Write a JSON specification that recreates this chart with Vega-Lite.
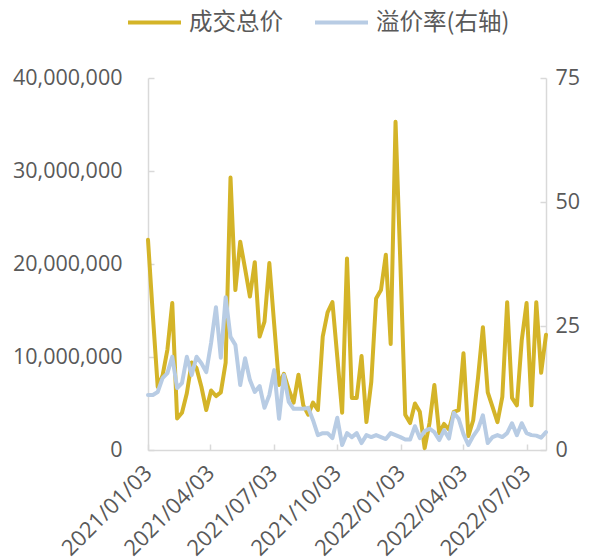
{
  "$schema": "https://vega.github.io/schema/vega-lite/v6.json",
  "width": 398,
  "height": 372,
  "autosize": {"type": "none"},
  "padding": {"left": 148, "top": 78, "right": 52, "bottom": 110},
  "config": {
    "view": {"stroke": null},
    "font": "Open Sans",
    "axis": {
      "grid": false,
      "domainColor": "#d9d9d9",
      "domainWidth": 1.5,
      "tickColor": "#d9d9d9",
      "tickWidth": 1.5,
      "tickSize": -6,
      "labelColor": "#595959",
      "labelFontSize": 21.5,
      "labelFont": "Open Sans",
      "title": null
    }
  },
  "data": {
    "values": [
      {"date": "2021-01-03", "total": 22600000, "premium": 11.1},
      {"date": "2021-01-10", "total": 14500000, "premium": 11.1},
      {"date": "2021-01-17", "total": 6800000, "premium": 11.7},
      {"date": "2021-01-24", "total": 8000000, "premium": 14.5},
      {"date": "2021-01-31", "total": 10800000, "premium": 15.5},
      {"date": "2021-02-07", "total": 15800000, "premium": 18.8},
      {"date": "2021-02-14", "total": 3400000, "premium": 12.5},
      {"date": "2021-02-21", "total": 4000000, "premium": 13.5},
      {"date": "2021-02-28", "total": 6100000, "premium": 18.8},
      {"date": "2021-03-07", "total": 9400000, "premium": 15.1},
      {"date": "2021-03-14", "total": 8800000, "premium": 18.8},
      {"date": "2021-03-21", "total": 6800000, "premium": 17.5},
      {"date": "2021-03-28", "total": 4300000, "premium": 15.7},
      {"date": "2021-04-04", "total": 6400000, "premium": 21.6},
      {"date": "2021-04-11", "total": 5800000, "premium": 28.8},
      {"date": "2021-04-18", "total": 6200000, "premium": 18.6},
      {"date": "2021-04-25", "total": 9400000, "premium": 30.8},
      {"date": "2021-05-02", "total": 29300000, "premium": 22.8},
      {"date": "2021-05-09", "total": 17200000, "premium": 21.2},
      {"date": "2021-05-16", "total": 22400000, "premium": 13.1},
      {"date": "2021-05-23", "total": 19500000, "premium": 18.5},
      {"date": "2021-05-30", "total": 16500000, "premium": 14.1},
      {"date": "2021-06-06", "total": 20200000, "premium": 11.7},
      {"date": "2021-06-13", "total": 12200000, "premium": 12.9},
      {"date": "2021-06-20", "total": 13800000, "premium": 8.5},
      {"date": "2021-06-27", "total": 20100000, "premium": 11.1},
      {"date": "2021-07-04", "total": 13500000, "premium": 16.1},
      {"date": "2021-07-11", "total": 7000000, "premium": 6.3},
      {"date": "2021-07-18", "total": 8200000, "premium": 15.1},
      {"date": "2021-07-25", "total": 6500000, "premium": 9.7},
      {"date": "2021-08-01", "total": 5100000, "premium": 8.3},
      {"date": "2021-08-08", "total": 8100000, "premium": 8.3},
      {"date": "2021-08-15", "total": 4800000, "premium": 8.3},
      {"date": "2021-08-22", "total": 3800000, "premium": 8.5},
      {"date": "2021-08-29", "total": 5100000, "premium": 6.0},
      {"date": "2021-09-05", "total": 4300000, "premium": 3.0},
      {"date": "2021-09-12", "total": 12200000, "premium": 3.4},
      {"date": "2021-09-19", "total": 14800000, "premium": 3.4},
      {"date": "2021-09-26", "total": 15900000, "premium": 2.4},
      {"date": "2021-10-03", "total": 10000000, "premium": 6.5},
      {"date": "2021-10-10", "total": 4000000, "premium": 1.0},
      {"date": "2021-10-17", "total": 20600000, "premium": 3.4},
      {"date": "2021-10-24", "total": 5600000, "premium": 2.6},
      {"date": "2021-10-31", "total": 5600000, "premium": 3.4},
      {"date": "2021-11-07", "total": 10100000, "premium": 1.4},
      {"date": "2021-11-14", "total": 3000000, "premium": 3.0},
      {"date": "2021-11-21", "total": 7300000, "premium": 2.6},
      {"date": "2021-11-28", "total": 16300000, "premium": 3.0},
      {"date": "2021-12-05", "total": 17200000, "premium": 2.6},
      {"date": "2021-12-12", "total": 21000000, "premium": 2.2},
      {"date": "2021-12-19", "total": 11400000, "premium": 3.4},
      {"date": "2021-12-26", "total": 35300000, "premium": 3.0},
      {"date": "2022-01-02", "total": 20000000, "premium": 2.6},
      {"date": "2022-01-09", "total": 3800000, "premium": 2.1},
      {"date": "2022-01-16", "total": 2900000, "premium": 2.1},
      {"date": "2022-01-23", "total": 5000000, "premium": 4.8},
      {"date": "2022-01-30", "total": 4100000, "premium": 2.4},
      {"date": "2022-02-06", "total": 200000, "premium": 3.8},
      {"date": "2022-02-13", "total": 2900000, "premium": 4.3},
      {"date": "2022-02-20", "total": 7000000, "premium": 3.6},
      {"date": "2022-02-27", "total": 1800000, "premium": 2.0},
      {"date": "2022-03-06", "total": 2800000, "premium": 4.0},
      {"date": "2022-03-13", "total": 2200000, "premium": 2.3},
      {"date": "2022-03-20", "total": 4100000, "premium": 7.5},
      {"date": "2022-03-27", "total": 4300000, "premium": 6.3},
      {"date": "2022-04-03", "total": 10400000, "premium": 3.2},
      {"date": "2022-04-10", "total": 1500000, "premium": 1.0},
      {"date": "2022-04-17", "total": 3200000, "premium": 2.8},
      {"date": "2022-04-24", "total": 7800000, "premium": 4.2},
      {"date": "2022-05-01", "total": 13200000, "premium": 7.0},
      {"date": "2022-05-08", "total": 6200000, "premium": 1.4},
      {"date": "2022-05-15", "total": 4600000, "premium": 2.6},
      {"date": "2022-05-22", "total": 3000000, "premium": 3.0},
      {"date": "2022-05-29", "total": 5700000, "premium": 2.6},
      {"date": "2022-06-05", "total": 15900000, "premium": 3.4},
      {"date": "2022-06-12", "total": 5600000, "premium": 5.4},
      {"date": "2022-06-19", "total": 4800000, "premium": 3.0},
      {"date": "2022-06-26", "total": 11800000, "premium": 5.4},
      {"date": "2022-07-03", "total": 15800000, "premium": 3.4},
      {"date": "2022-07-10", "total": 4800000, "premium": 3.0},
      {"date": "2022-07-17", "total": 15900000, "premium": 2.9},
      {"date": "2022-07-24", "total": 8300000, "premium": 2.5},
      {"date": "2022-07-31", "total": 12400000, "premium": 3.6}
    ]
  },
  "layer": [
    {
      "mark": {"type": "line", "strokeWidth": 4, "strokeJoin": "round", "strokeCap": "round"},
      "encoding": {
        "x": {
          "field": "date",
          "type": "temporal",
          "scale": {
            "type": "utc",
            "domain": [
              {"year": 2021, "month": 1, "date": 3, "utc": true},
              {"year": 2022, "month": 7, "date": 31, "utc": true}
            ],
            "nice": false
          },
          "axis": {
            "values": [
              {"year": 2021, "month": 1, "date": 3, "utc": true},
              {"year": 2021, "month": 4, "date": 3, "utc": true},
              {"year": 2021, "month": 7, "date": 3, "utc": true},
              {"year": 2021, "month": 10, "date": 3, "utc": true},
              {"year": 2022, "month": 1, "date": 3, "utc": true},
              {"year": 2022, "month": 4, "date": 3, "utc": true},
              {"year": 2022, "month": 7, "date": 3, "utc": true}
            ],
            "labelExpr": "utcFormat(datum.value, '%Y/%m/%d')",
            "labelFontSize": 22,
            "labelAngle": -45,
            "labelAlign": "right",
            "labelBaseline": "middle",
            "labelPadding": 25,
            "labelOverlap": false,
            "labelBound": false,
            "labelFlush": false
          }
        },
        "y": {
          "field": "total",
          "type": "quantitative",
          "scale": {"domain": [0, 40000000], "nice": false},
          "axis": {
            "values": [0, 10000000, 20000000, 30000000, 40000000],
            "format": ",d",
            "labelPadding": 32,
            "labelFlush": false
          }
        },
        "color": {
          "datum": "成交总价",
          "type": "nominal",
          "scale": {"domain": ["成交总价", "溢价率(右轴)"], "range": ["#D4B428", "#B8CCE4"]},
          "legend": {
            "orient": "none",
            "legendX": -22,
            "legendY": -84,
            "direction": "horizontal",
            "title": null,
            "symbolType": "stroke",
            "symbolSize": 2809,
            "symbolStrokeWidth": 4,
            "labelFontSize": 23.5,
            "labelFont": "Noto Sans CJK SC",
            "labelColor": "#595959",
            "labelOffset": 6,
            "columnPadding": 24,
            "labelLimit": 300
          }
        }
      }
    },
    {
      "mark": {"type": "line", "strokeWidth": 4, "strokeJoin": "round", "strokeCap": "round"},
      "encoding": {
        "x": {"field": "date", "type": "temporal"},
        "y": {
          "field": "premium",
          "type": "quantitative",
          "scale": {"domain": [0, 75], "nice": false},
          "axis": {
            "orient": "right",
            "values": [0, 25, 50, 75],
            "labelPadding": 15,
            "labelFlush": false
          }
        },
        "color": {"datum": "溢价率(右轴)", "type": "nominal"}
      }
    }
  ],
  "resolve": {"scale": {"y": "independent"}}
}
